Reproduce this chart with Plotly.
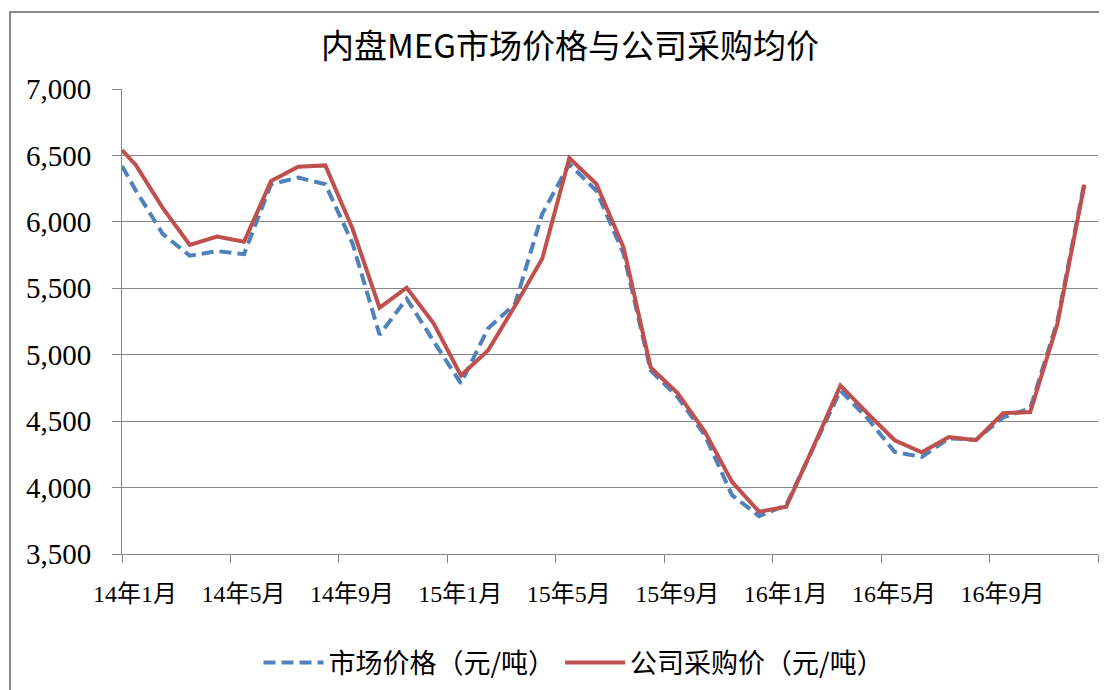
import plotly.graph_objects as go

# ---- data ----
# month index: 0 = 14年1月 ... 35 = 16年12月 ; first point sits at the axis start (-0.5)
month_pos = [-0.5] + list(range(36))
market_price = [6420, 6240, 5910, 5745, 5780, 5757, 6283, 6333, 6283, 5840, 5150,
                5422, 5100, 4784, 5197, 5384, 6060, 6435, 6233, 5760, 4881, 4681,
                4393, 3943, 3785, 3868, 4300, 4731, 4520, 4268, 4231, 4370, 4360,
                4528, 4596, 5250, 6300]
company_price = [6540, 6430, 6105, 5827, 5890, 5850, 6308, 6415, 6425, 5950, 5354,
                 5504, 5234, 4844, 5032, 5369, 5722, 6480, 6285, 5807, 4904, 4709,
                 4420, 4043, 3818, 3855, 4306, 4769, 4559, 4356, 4266, 4381, 4356,
                 4559, 4569, 5230, 6280]
tick_pos = [-0.5, 3.5, 7.5, 11.5, 15.5, 19.5, 23.5, 27.5, 31.5, 35.5]
tick_labels = ["14年1月", "14年5月", "14年9月", "15年1月", "15年5月",
               "15年9月", "16年1月", "16年5月", "16年9月", ""]
y_ticks = [3500, 4000, 4500, 5000, 5500, 6000, 6500, 7000]

# page body has an 8px default margin, so the figure is offset by 8px
OFF = 8
W, H = 1107 - OFF, 690 - OFF
L, T = 122 - OFF, 89 - OFF
pw, ph = 976, 465
R, B = W - L - pw, H - T - ph

fig = go.Figure()
fig.add_trace(go.Scatter(
    x=month_pos, y=market_price, mode="lines", name="市场价格（元/吨）",
    line=dict(color="#4F81BD", width=4, dash="12px,6px")))
fig.add_trace(go.Scatter(
    x=month_pos, y=company_price, mode="lines", name="公司采购价（元/吨）",
    line=dict(color="#C0504D", width=4)))

def px_to_paper_x(px):
    return (px - OFF - L) / pw

def px_to_paper_y(py):
    return (T + ph - (py - OFF)) / ph

fig.update_layout(
    width=W, height=H,
    margin=dict(l=L, r=R, t=T, b=B, autoexpand=False),
    paper_bgcolor="white", plot_bgcolor="white",
    title=dict(text="内盘MEG市场价格与公司采购均价", x=(570 - OFF) / W, xanchor="center",
               y=1 - (46 - OFF) / H, yanchor="middle",
               font=dict(family="Noto Sans CJK SC", size=33, color="#000000")),
    showlegend=True,
    legend=dict(orientation="h", x=px_to_paper_x(574), xanchor="center",
                y=px_to_paper_y(663), yanchor="middle",
                font=dict(family="Noto Sans CJK SC", size=27, color="#000000"),
                itemwidth=60, bgcolor="rgba(0,0,0,0)"),
    xaxis=dict(range=[-0.5, 35.5], tickmode="array", tickvals=tick_pos,
               ticktext=tick_labels, ticks="outside", ticklen=8, tickcolor="#868686",
               tickwidth=1, showgrid=False, zeroline=False, showline=True,
               linecolor="#868686", linewidth=1, ticklabelshift=13, ticklabelstandoff=10,
               tickfont=dict(family="Liberation Serif, Noto Sans CJK SC", size=24,
                             color="#000000")),
    yaxis=dict(range=[3500, 7000], tickmode="array", tickvals=y_ticks,
               tickformat=",d", ticks="outside", ticklen=9, tickcolor="#868686",
               showgrid=True, gridcolor="#868686", gridwidth=1, zeroline=False,
               showline=True, linecolor="#868686", linewidth=1, ticklabelstandoff=15,
               tickfont=dict(family="Liberation Serif", size=29, color="#000000")),
    shapes=[dict(type="rect", xref="paper", yref="paper",
                 x0=px_to_paper_x(10), x1=px_to_paper_x(1107 + 20),
                 y0=px_to_paper_y(690 + 20), y1=px_to_paper_y(12),
                 line=dict(color="#888888", width=2), layer="below")],
)

fig.write_html("out.html")
